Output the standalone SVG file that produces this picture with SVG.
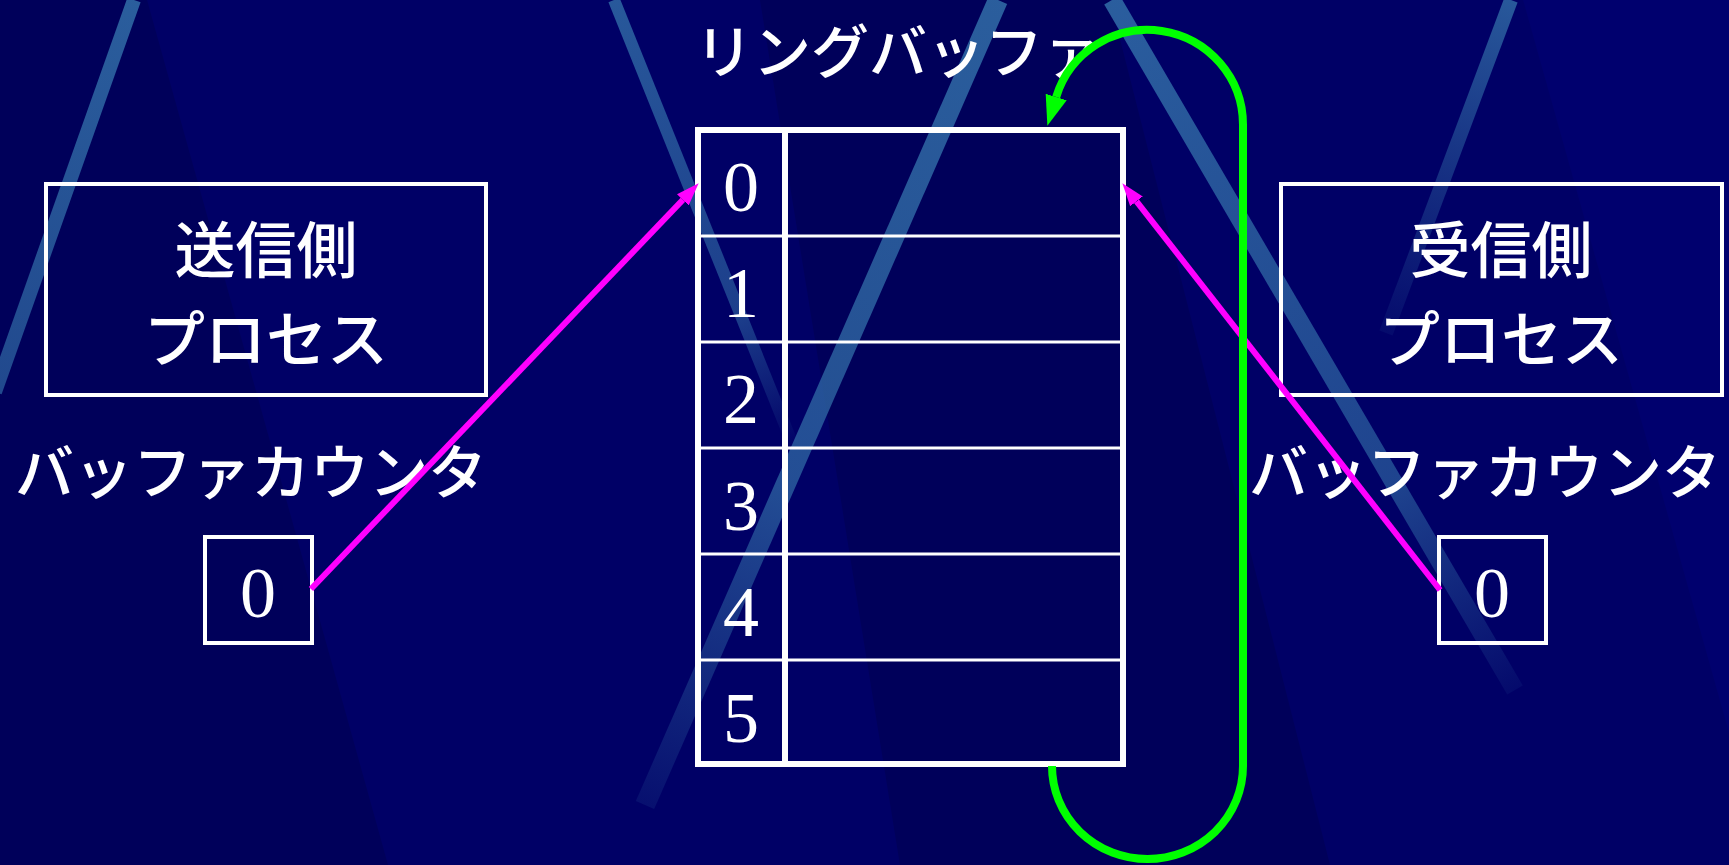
<svg xmlns="http://www.w3.org/2000/svg" width="1729" height="865" viewBox="0 0 1729 865">
<style>
.bg{fill:#000066}
.shade{fill:#00005a}
.light{fill:#00006e}
.streak{stroke-linecap:butt;fill:none}
.box{fill:none;stroke:#ffffff;stroke-width:4}
.tbl{fill:none;stroke:#ffffff;stroke-width:6}
.row{stroke:#ffffff;stroke-width:3}
.jp{font-family:"Noto Sans CJK JP","Noto Sans",sans-serif;font-weight:500;fill:#ffffff}
.num{font-family:"Liberation Serif",serif;font-size:72px;fill:#ffffff;text-anchor:middle}
.mag{stroke:#ff00ff;stroke-width:6;fill:none}
.grn{stroke:#00ff00;stroke-width:8;fill:none}
</style>
<defs>
<marker id="am" markerUnits="userSpaceOnUse" markerWidth="24" markerHeight="18" refX="0" refY="9" orient="auto">
<path d="M0,1 L23,9 L0,17 z" fill="#ff00ff"/>
</marker>
<marker id="ag" markerUnits="userSpaceOnUse" markerWidth="32" markerHeight="22" refX="0" refY="11" orient="auto">
<path d="M0,0 L30,11 L0,22 z" fill="#00ff00"/>
</marker>
<linearGradient id="g1" gradientUnits="userSpaceOnUse" x1="134" y1="0" x2="-5" y2="392">
<stop offset="0" stop-color="#2f68a4" stop-opacity="0.9"/><stop offset="1" stop-color="#2f68a4" stop-opacity="0.7"/>
</linearGradient>
<linearGradient id="g2" gradientUnits="userSpaceOnUse" x1="614" y1="0" x2="795" y2="450">
<stop offset="0" stop-color="#2f68a4" stop-opacity="0.85"/><stop offset="0.7" stop-color="#2f68a4" stop-opacity="0.6"/><stop offset="1" stop-color="#2f68a4" stop-opacity="0"/>
</linearGradient>
<linearGradient id="g3" gradientUnits="userSpaceOnUse" x1="998" y1="0" x2="645" y2="805">
<stop offset="0" stop-color="#2f68a4" stop-opacity="0.9"/><stop offset="0.6" stop-color="#2f68a4" stop-opacity="0.75"/><stop offset="1" stop-color="#2f68a4" stop-opacity="0.15"/>
</linearGradient>
<linearGradient id="g4" gradientUnits="userSpaceOnUse" x1="1112" y1="0" x2="1515" y2="690">
<stop offset="0" stop-color="#2f68a4" stop-opacity="0.9"/><stop offset="0.7" stop-color="#2f68a4" stop-opacity="0.65"/><stop offset="1" stop-color="#2f68a4" stop-opacity="0.1"/>
</linearGradient>
<linearGradient id="g5" gradientUnits="userSpaceOnUse" x1="1511" y1="0" x2="1386" y2="333">
<stop offset="0" stop-color="#2f68a4" stop-opacity="0.85"/><stop offset="1" stop-color="#2f68a4" stop-opacity="0.1"/>
</linearGradient>
</defs>
<g id="background">
<rect class="bg" x="0" y="0" width="1729" height="865"/>
<polygon class="shade" points="0,0 147,0 388,865 0,865"/>
<polygon class="light" points="1523,0 1729,0 1729,733"/>
<polygon class="shade" points="760,0 1110,0 1330,865 900,865"/>
<line class="streak" x1="134" y1="0" x2="-5" y2="392" stroke="url(#g1)" stroke-width="14"/>
<line class="streak" x1="614" y1="0" x2="795" y2="450" stroke="url(#g2)" stroke-width="12"/>
<line class="streak" x1="998" y1="0" x2="645" y2="805" stroke="url(#g3)" stroke-width="20"/>
<line class="streak" x1="1112" y1="0" x2="1515" y2="690" stroke="url(#g4)" stroke-width="18"/>
<line class="streak" x1="1511" y1="0" x2="1386" y2="333" stroke="url(#g5)" stroke-width="14"/>
</g>
<g id="title">
<text class="jp" x="898" y="73" font-size="58" text-anchor="middle">リングバッファ</text>
</g>
<g id="ring-buffer">
<rect class="tbl" x="698" y="130" width="425" height="634"/>
<line class="tbl" x1="785" y1="130" x2="785" y2="764"/>
<line class="row" x1="698" y1="236" x2="1123" y2="236"/>
<line class="row" x1="698" y1="342" x2="1123" y2="342"/>
<line class="row" x1="698" y1="448" x2="1123" y2="448"/>
<line class="row" x1="698" y1="554" x2="1123" y2="554"/>
<line class="row" x1="698" y1="660" x2="1123" y2="660"/>
<text class="num" x="741" y="211">0</text>
<text class="num" x="741" y="317">1</text>
<text class="num" x="741" y="423">2</text>
<text class="num" x="741" y="530">3</text>
<text class="num" x="741" y="636">4</text>
<text class="num" x="741" y="742">5</text>
</g>
<g id="sender">
<rect class="box" x="46" y="184" width="440" height="211"/>
<text class="jp" font-size="61" text-anchor="middle"><tspan x="266" y="273">送信側</tspan><tspan x="266" y="362">プロセス</tspan></text>
</g>
<g id="sender-counter-label">
<text class="jp" x="251" y="494" font-size="59" text-anchor="middle">バッファカウンタ</text>
</g>
<g id="sender-counter">
<rect class="box" x="205" y="537" width="107" height="106"/>
<text class="num" x="258" y="617">0</text>
</g>
<g id="receiver">
<rect class="box" x="1281" y="184" width="441" height="211"/>
<text class="jp" font-size="61" text-anchor="middle"><tspan x="1501" y="273">受信側</tspan><tspan x="1501" y="362">プロセス</tspan></text>
</g>
<g id="receiver-counter-label">
<text class="jp" x="1485" y="494" font-size="59" text-anchor="middle">バッファカウンタ</text>
</g>
<g id="receiver-counter">
<rect class="box" x="1439" y="537" width="107" height="106"/>
<text class="num" x="1492" y="617">0</text>
</g>
<g id="connectors">
<line class="mag" x1="311" y1="589" x2="682.8" y2="199.9" marker-end="url(#am)"/>
<line class="mag" x1="1440" y1="590" x2="1136.5" y2="201.3" marker-end="url(#am)"/>
<path class="grn" d="M1052,766 A95.5,93 0 0 0 1243,766 L1243,125 A95.5,95 0 0 0 1056.2,97" marker-end="url(#ag)"/>
</g>
</svg>
